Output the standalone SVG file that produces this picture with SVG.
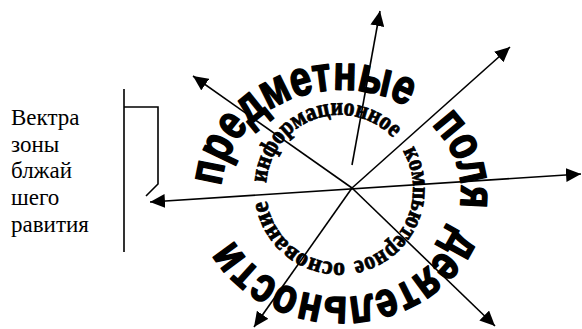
<svg xmlns="http://www.w3.org/2000/svg" width="582" height="329" viewBox="0 0 582 329">
<defs>
<style>
.ln{stroke:#000;stroke-width:1.6;fill:none}
.lbl{font-size:23px;fill:#000}
.outer{font-family:"Liberation Sans",Arial,sans-serif;font-weight:bold;font-size:49px;fill:#000;stroke:#000;stroke-width:1.6;stroke-linejoin:round}
.inner{font-weight:bold;font-size:25px;fill:#000;stroke:#000;stroke-width:0.8;stroke-linejoin:round}
</style>
<marker id="ah" markerUnits="userSpaceOnUse" markerWidth="16" markerHeight="14" refX="15" refY="7" orient="auto-start-reverse">
<path d="M0,0 L15,7 L0,14 z" fill="#000"/>
</marker>
<path id="outerPath" d="M221.3,186.35 A120,102.5 0 1 1 460.7,200.65 A120,102.5 0 1 1 221.3,186.35"/>
<path id="innerPath" d="M266.25,182.98 A73.5,73.5 0 1 1 412.75,195.02 A73.5,73.5 0 1 1 266.25,182.98"/>
</defs>
<rect width="582" height="329" fill="#fff"/>
<g id="label" font-family="Liberation Serif, DejaVu Serif, serif">
<text class="lbl" x="11" y="125">Вектра</text>
<text class="lbl" x="11" y="152">зоны</text>
<text class="lbl" x="11" y="178">блжай</text>
<text class="lbl" x="11" y="205">шего</text>
<text class="lbl" x="11" y="232">равития</text>
</g>
<g id="bracket">
<path class="ln" d="M124,89 V252 M124,107 H158 V184 L146,196"/>
</g>
<g id="outer-ring">
<text class="outer"><textPath href="#outerPath" startOffset="0" textLength="238" lengthAdjust="spacingAndGlyphs">предметные</textPath></text>
<text class="outer"><textPath href="#outerPath" startOffset="268" textLength="91" lengthAdjust="spacingAndGlyphs">поля</textPath></text>
<text class="outer"><textPath href="#outerPath" startOffset="380" textLength="269" lengthAdjust="spacingAndGlyphs">деятельности</textPath></text>
</g>
<g id="inner-ring" font-family="Liberation Serif, DejaVu Serif, serif">
<text class="inner"><textPath href="#innerPath" startOffset="0" textLength="170" lengthAdjust="spacingAndGlyphs">информационное</textPath></text>
<text class="inner"><textPath href="#innerPath" startOffset="186" textLength="142" lengthAdjust="spacingAndGlyphs">компьютерное</textPath></text>
<text class="inner"><textPath href="#innerPath" startOffset="336" textLength="110" lengthAdjust="spacingAndGlyphs">основание</textPath></text>
</g>
<g id="connectors">
<line class="ln" x1="352" y1="165" x2="380" y2="11" marker-end="url(#ah)"/>
<line class="ln" x1="352" y1="188" x2="193" y2="76" marker-end="url(#ah)"/>
<line class="ln" x1="352" y1="188" x2="510" y2="47" marker-end="url(#ah)"/>
<line class="ln" x1="352" y1="188" x2="495" y2="326" marker-end="url(#ah)"/>
<line class="ln" x1="352" y1="188" x2="254" y2="327" marker-end="url(#ah)"/>
<line class="ln" x1="150" y1="202" x2="581" y2="174" marker-start="url(#ah)" marker-end="url(#ah)"/>
</g>
</svg>
